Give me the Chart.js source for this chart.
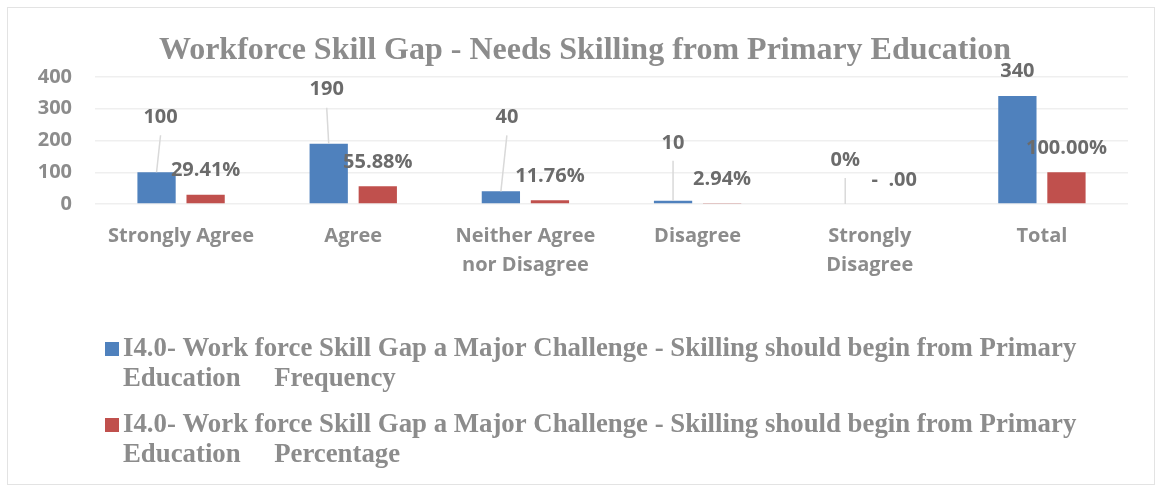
<!DOCTYPE html>
<html lang="en">
<head>
    <meta charset="UTF-8">
    <title>Workforce Skill Gap - Needs Skilling from Primary Education</title>
    <script src="https://cdn.jsdelivr.net/npm/chart.js"></script>
    <style>
        body { margin: 0; background: #fff; }
        #wrap { width: 1156px; height: 486px; }
    </style>
</head>
<body>

<div id="wrap"><canvas id="barChart" width="1156" height="486"></canvas></div>

<script type="text/javascript">
    // Chart data
    const categories = [
        ['Strongly Agree'], ['Agree'], ['Neither Agree', 'nor Disagree'],
        ['Disagree'], ['Strongly', 'Disagree'], ['Total']
    ];
    const frequency = [100, 190, 40, 10, 0, 340];
    const percentage = [29.41, 55.88, 11.76, 2.94, 0, 100];
    const frequencyLabels = ['100', '190', '40', '10', '0%', '340'];
    const percentageLabels = ['29.41%', '55.88%', '11.76%', '2.94%', '-  .00', '100.00%'];
    const yTicks = [0, 100, 200, 300, 400];

    const titleText = 'Workforce Skill Gap - Needs Skilling from Primary Education';
    const legendLines = [
        ['I4.0- Work force Skill Gap a Major Challenge - Skilling should begin from Primary', 'Education     Frequency'],
        ['I4.0- Work force Skill Gap a Major Challenge - Skilling should begin from Primary', 'Education     Percentage']
    ];

    // where the frequency labels sit, relative to the top of their bar (dx, dy, leader line)
    const freqLabelPos = [[4, -55, true], [-2, -54, true], [6, -74, true], [0, -58, true], [0, -44, true], [0, -25, false]];

    const SANS = '"Open Sans", sans-serif';
    const SERIF = '"Liberation Serif", "Times New Roman", serif';
    const GRAY = '#8c8c8c';
    const LABEL_GRAY = '#6b6b6b';

    const frameAndLabels = {
        id: 'frameAndLabels',
        beforeDraw(chart) {
            const ctx = chart.ctx;
            ctx.save();
            ctx.fillStyle = '#fff';
            ctx.fillRect(0, 0, chart.width, chart.height);
            ctx.strokeStyle = '#e3e3e3';
            ctx.lineWidth = 1;
            ctx.strokeRect(7.5, 7.5, chart.width - 9, chart.height - 9);

            // title (Excel places it a bit right of the canvas centre)
            ctx.font = 'bold 32px ' + SERIF;
            ctx.fillStyle = GRAY;
            ctx.textAlign = 'center';
            ctx.textBaseline = 'alphabetic';
            ctx.fillText(titleText, 585, 59);
            ctx.restore();
        },
        afterDatasetsDraw(chart) {
            const ctx = chart.ctx;
            ctx.save();
            ctx.font = 'bold 20px ' + SANS;
            ctx.fillStyle = LABEL_GRAY;
            ctx.textAlign = 'center';
            ctx.textBaseline = 'middle';

            // frequency labels with leader lines
            chart.getDatasetMeta(0).data.forEach((bar, i) => {
                const [dx, dy, leader] = freqLabelPos[i];
                if (leader) {
                    ctx.strokeStyle = '#d9d9d9';
                    ctx.lineWidth = 1.5;
                    ctx.beginPath();
                    ctx.moveTo(bar.x, bar.y);
                    ctx.lineTo(bar.x + dx, bar.y + dy + 18);
                    ctx.stroke();
                }
                ctx.fillText(frequencyLabels[i], bar.x + dx, bar.y + dy);
            });

            // percentage labels just above the bars
            chart.getDatasetMeta(1).data.forEach((bar, i) => {
                ctx.fillText(percentageLabels[i], bar.x, bar.y - 24);
            });

            // legend, two wrapped entries under the axis
            const colors = chart.data.datasets.map(d => d.backgroundColor);
            ctx.font = 'bold 26.8px ' + SERIF;
            ctx.textAlign = 'left';
            ctx.textBaseline = 'alphabetic';
            legendLines.forEach((lines, k) => {
                const top = 356 + k * 76;
                ctx.fillStyle = colors[k];
                ctx.fillRect(105, top - 14, 14, 14);
                ctx.fillStyle = GRAY;
                lines.forEach((line, j) => ctx.fillText(line, 123, top + j * 30));
            });
            ctx.restore();
        }
    };

    const ctx = document.getElementById('barChart').getContext('2d');
    const chart = new Chart(ctx, {
        type: 'bar',
        data: {
            labels: categories,
            datasets: [{
                label: legendLines[0].join(' '),
                data: frequency,
                backgroundColor: '#4f81bd',
                categoryPercentage: 0.57,
                barPercentage: 0.78
            }, {
                label: legendLines[1].join(' '),
                data: percentage,
                backgroundColor: '#c0504d',
                categoryPercentage: 0.57,
                barPercentage: 0.78
            }]
        },
        options: {
            responsive: false,
            animation: false,
            layout: {
                padding: { left: 0, right: 28, top: 77, bottom: 202 }
            },
            scales: {
                x: {
                    grid: { display: false, drawTicks: false },
                    border: { display: false },
                    ticks: {
                        color: GRAY,
                        font: { family: SANS, size: 20, weight: 'bold', lineHeight: 1.45 },
                        padding: 18,
                        maxRotation: 0,
                        autoSkip: false
                    },
                    afterFit(scale) { scale.height = 80; }
                },
                y: {
                    min: 0,
                    max: 400,
                    grid: { color: '#efefef', lineWidth: 1.5, drawTicks: false },
                    border: { display: false },
                    afterBuildTicks(scale) { scale.ticks = yTicks.map(v => ({ value: v })); },
                    ticks: {
                        color: GRAY,
                        font: { family: SANS, size: 20, weight: 'bold' },
                        padding: 23
                    },
                    afterFit(scale) { scale.width = 95; }
                }
            },
            plugins: {
                legend: { display: false },
                tooltip: { enabled: false },
                title: { display: false }
            }
        },
        plugins: [frameAndLabels]
    });
</script>

</body>
</html>
